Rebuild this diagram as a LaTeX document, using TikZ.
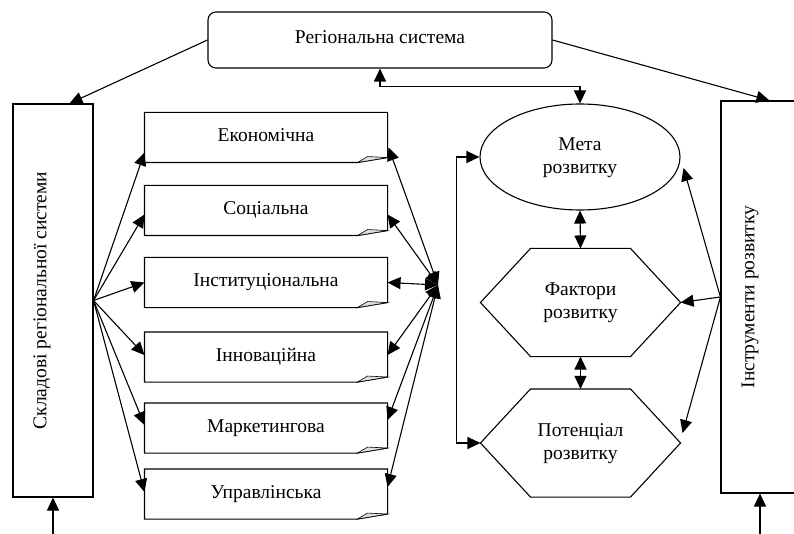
\documentclass[tikz,border=0pt]{standalone}
\usepackage{fontspec}
\setmainfont{Liberation Serif}
\usetikzlibrary{arrows.meta,calc,shapes.geometric}
\newcommand\docframe[1]{%
  \draw (#1.north west) -- (#1.north east) -- ($(#1.south east)+(0,-5)$)
        -- ($(#1.south east)+(-30,0)$) -- (#1.south west) -- cycle;
  \draw[fill=gray!25, line width=0.6pt] ($(#1.south east)+(-30,0)$)
        -- ($(#1.south east)+(-20,-6)$) -- ($(#1.south east)+(0,-5)$) -- cycle;}
\newcommand\hexframe[1]{%
  \draw (#1.west) -- ($(#1.north)+(-50,0)$) -- ($(#1.north)+(50,0)$) -- (#1.east)
        -- ($(#1.south)+(50,0)$) -- ($(#1.south)+(-50,0)$) -- cycle;}
\newcommand\twolines[3]{\raisebox{#1}{\begin{tabular}{@{}c@{}}#2\\#3\end{tabular}}}
\begin{document}
\begin{tikzpicture}[x=1pt,y=-1pt,
  line width=1.1pt,
  >={Triangle[length=13pt,width=12pt]},
  lbl/.style={font=\fontsize{19.5}{23}\selectfont, align=center},
  docbox/.style={lbl, minimum width=242pt, minimum height=49pt, inner sep=0pt},
  sidebox/.style={draw, lbl, inner sep=0pt},
  hexbox/.style={lbl, minimum width=199pt, minimum height=107pt, inner sep=0pt},
]
\useasboundingbox (0,0) rectangle (794,534);

% top box
\node[draw, lbl, rounded corners=8pt, minimum width=344pt, minimum height=56pt, inner sep=0pt]
  (T) at (380,40) {\raisebox{5pt}{Регіональна система}};

% side boxes
\node[sidebox, minimum width=80pt, minimum height=393pt] (L) at (53,300.5)
  {\rotatebox{90}{Складові регіональної системи}\hspace*{22pt}};
\node[sidebox, minimum width=78pt, minimum height=392pt] (R) at (760,297)
  {\rotatebox{90}{Інструменти розвитку}\hspace*{20pt}};

% documents
\node[docbox] (E)  at (266,137.5) {\raisebox{4pt}{Економічна}};
\node[docbox] (S)  at (266,210.5) {\raisebox{4pt}{Соціальна}};
\node[docbox] (I)  at (266,282.5) {\raisebox{4pt}{Інституціональна}};
\node[docbox] (In) at (266,357)   {\raisebox{4pt}{Інноваційна}};
\node[docbox] (Mk) at (266,428)   {\raisebox{4pt}{Маркетингова}};
\node[docbox] (U)  at (266,494)   {\raisebox{4pt}{Управлінська}};
\docframe{E}\docframe{S}\docframe{I}\docframe{In}\docframe{Mk}\docframe{U}

% right column
\node[draw, ellipse, lbl, minimum width=200pt, minimum height=106pt, inner sep=0pt]
  (M) at (580,157) {\twolines{9pt}{Мета}{розвитку}};
\node[hexbox] (F) at (580.5,302.5) {\twolines{6pt}{Фактори}{розвитку}};
\node[hexbox] (P) at (580.5,443)   {\twolines{7pt}{Потенціал}{розвитку}};
\hexframe{F}\hexframe{P}

% connectors from the top box
\draw[->] (T.west) -- ($(L.north west)+(57,0)$);
\draw[->] (T.east) -- ($(R.north west)+(49,0)$);
\coordinate (tbx) at (380,0);
\draw[<->] (T.south -| tbx) -- ++(0,18) -| (M.north);

% right column links
\draw[<->] (M.south) -- (F.north);
\draw[<->] (F.south) -- (P.north);
\draw[<->] (M.west) -- ++(-23,0) |- (P.west);

\draw[->] (R.west) -- ($(M.east)+(3,11)$);
\draw[->] (R.west) -- (F.east);
\draw[->] (R.west) -- ($(P.east)+(2,-10)$);

% left fan
\draw[->] (L.east) -- ($(E.west)+(0,15)$);
\draw[->] (L.east) -- ($(S.west)+(0,4)$);
\draw[->] (L.east) -- (I.west);
\draw[->] (L.east) -- ($(In.west)+(0,-2)$);
\draw[->] (L.east) -- ($(Mk.west)+(0,-3)$);
\draw[->] (L.east) -- ($(U.west)+(0,-2)$);

% right fan from hub
\coordinate (hub) at (438,285);
\draw[<->] (hub) -- ($(E.east)+(1,10)$);
\draw[<->] (hub) -- ($(S.east)+(0,4)$);
\draw[<->] (hub) -- (I.east);
\draw[<->] (hub) -- ($(In.east)+(0,-2)$);
\draw[<->] (hub) -- ($(Mk.east)+(0,-8)$);
\draw[<->] (hub) -- ($(U.east)+(0,-7)$);

% bottom inputs
\coordinate (lb) at (53,534);
\coordinate (rb) at (760,534);
\draw[->] (lb) -- (L.south);
\draw[->] (rb) -- (R.south);
\end{tikzpicture}
\end{document}
